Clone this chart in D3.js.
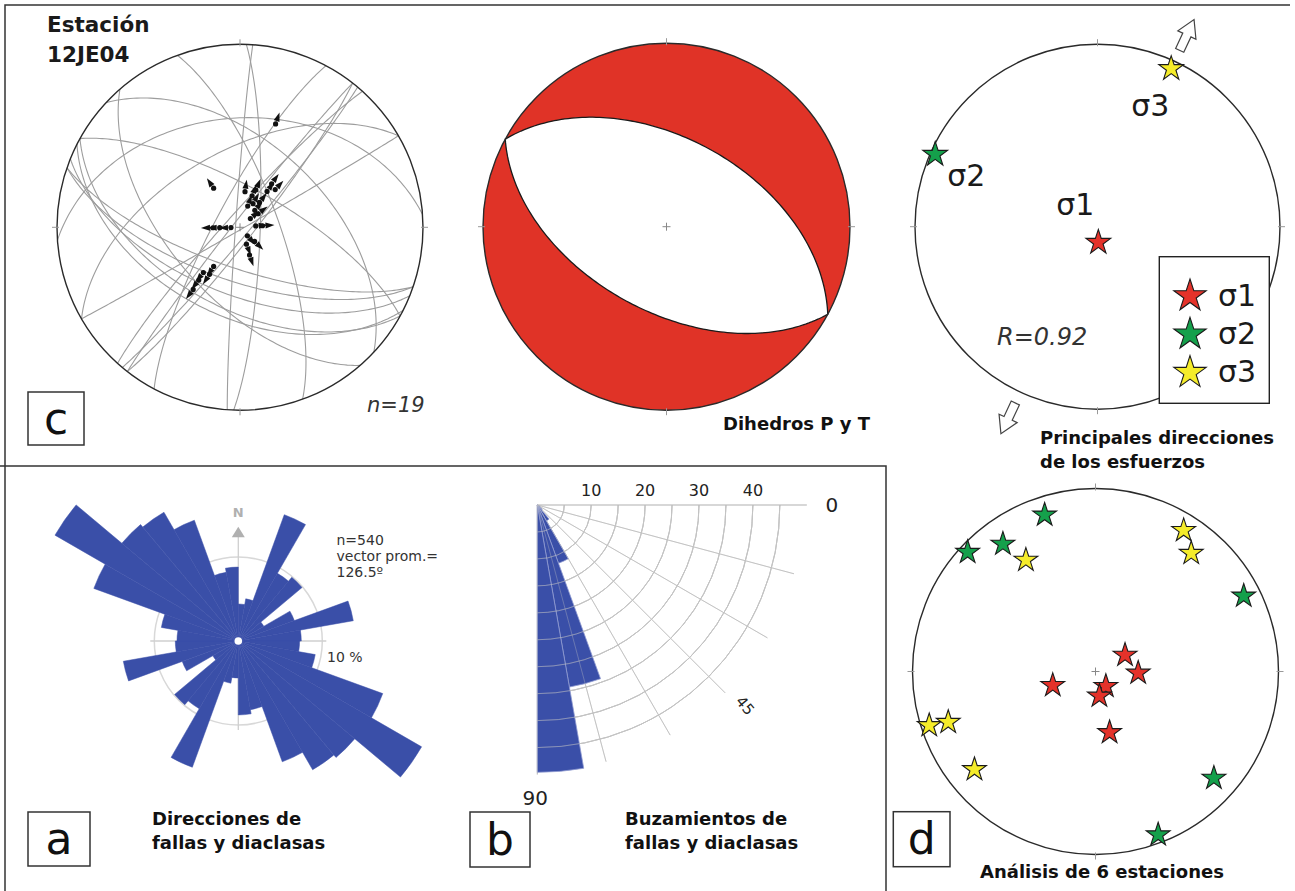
<!DOCTYPE html>
<html>
<head>
<meta charset="utf-8">
<script src="https://cdn.jsdelivr.net/npm/d3@7"></script>
<style>
  html, body { margin: 0; padding: 0; background: #fff; }
  svg { display: block; }
  text { font-family: "DejaVu Sans", Verdana, sans-serif; }
</style>
</head>
<body>
<svg id="fig" width="1295" height="891"></svg>
<script>
// ---------------- data ----------------
// (c) fault planes of station 12JE04: strike (right-hand rule) and dip, degrees
const planeStrike = [40, 218, 38, 222, 60, 109, 112, 119, 117, 109, 299, 266, 340, 208, 139, 184, 2, 313, 240];
const planeDip    = [86, 87, 84, 84, 89, 72, 60, 54, 50, 66, 72, 40, 73, 79, 59, 88, 81, 52, 56];

// (c) striae on the fault planes: trend / plunge, slip arrows point along trend
const striaTrend  = [19, 326, 8, 21, 23, 37, 36, 43, 20, 29, 38, 41, 53, 50, 268, 269, 269, 85, 86, 139, 159, 134, 161, 214, 213, 219, 218, 217];
const striaPlunge = [40, 69, 74, 75, 72, 70, 66, 67, 80, 78, 76, 80, 80, 84, 86, 81, 78, 83, 80, 85, 82, 81, 77, 69, 65, 64, 60, 55];

// right dihedra: the two nodal planes bounding the white (T) field
const nodalStrike = [298.5, 118.5];
const nodalDip    = [50, 52];

// principal stress axes for the station
const stressLabels = ["σ1", "σ2", "σ3"];
const stressTrend  = [177, 294, 25];
const stressPlunge = [83, 3, 5];
const stressColors = ["#e4322a", "#14a04b", "#f5ec2a"];
const stressRatio  = "R=0.92";

// (d) stress axes of 6 stations
const sigma1Trend  = [61, 92, 252, 145, 171, 167];
const sigma1Plunge = [75, 71, 70, 82, 79, 62];
const sigma2Trend  = [342, 324, 313, 63, 132, 159];
const sigma2Plunge = [11, 15, 5, 10, 14, 5];
const sigma3Trend  = [32, 39, 328, 252, 251, 231];
const sigma3Plunge = [10, 18, 29, 5, 16, 16];

// (a) strike rose, 10° bins (bidirectional), percent
const roseBinStart = [0, 10, 20, 30, 40, 50, 60, 70, 80, 90, 100, 110, 120, 130, 140, 150, 160, 170];
const rosePercent  = [4.4, 5.1, 16.0, 9.3, 9.9, 3.5, 7.1, 13.9, 7.5, 7.3, 9.3, 18.3, 25.2, 18.1, 17.7, 15.3, 8.3, 8.8];
const roseRingPercent = 10;
const roseCount = "n=540";
const roseMean = "126.5º";

// (b) dip histogram, 10° bins, percent
const dipBinStart = [0, 10, 20, 30, 40, 50, 60, 70, 80];
const dipPercent  = [0, 0, 0, 0.6, 1.2, 3.4, 11.5, 34.3, 49.6];
const dipTickLabels = [10, 20, 30, 40];
const dipRings = [5, 10, 15, 20, 25, 30, 35, 40, 45];
const dipSpokes = [15, 30, 45, 60, 75];

// ---------------- helpers ----------------
const rad = Math.PI / 180;
const svg = d3.select("#fig");
const BLUE = "#3a4fa8";
const line = d3.line();

// Schmidt (equal-area, lower hemisphere) net
function makeNet(cx, cy, R) {
  const rho = d3.scaleLinear().domain([0, 1]).range([0, R]);
  const project = (trend, plunge) => {
    const r = rho(Math.SQRT2 * Math.sin((90 - plunge) * rad / 2));
    return [cx + r * Math.sin(trend * rad), cy - r * Math.cos(trend * rad)];
  };
  return { cx, cy, R, project };
}

// great circle of a plane as trend/plunge samples, from strike to strike+180
function greatCircle(strike, dip, n = 120) {
  const dd = strike + 90;
  const S = [Math.cos(strike * rad), Math.sin(strike * rad), 0];
  const D = [Math.cos(dip * rad) * Math.cos(dd * rad), Math.cos(dip * rad) * Math.sin(dd * rad), Math.sin(dip * rad)];
  return d3.range(n + 1).map(i => {
    const a = i / n * Math.PI;
    const v = [0, 1, 2].map(k => Math.cos(a) * S[k] + Math.sin(a) * D[k]);
    const plunge = Math.asin(Math.max(-1, Math.min(1, v[2]))) / rad;
    const trend = Math.atan2(v[1], v[0]) / rad;
    return [trend, plunge];
  });
}

function drawNetFrame(g, net, opts = {}) {
  const { cx, cy, R } = net;
  g.append("circle").attr("cx", cx).attr("cy", cy).attr("r", R)
    .attr("fill", opts.fill || "none").attr("stroke", "#2a2a2a").attr("stroke-width", 1.4);
  [0, 90, 180, 270].forEach(a => {
    const s = Math.sin(a * rad), c = -Math.cos(a * rad);
    g.append("line")
      .attr("x1", cx + s * (R - 2)).attr("y1", cy + c * (R - 2))
      .attr("x2", cx + s * (R + 5)).attr("y2", cy + c * (R + 5))
      .attr("stroke", "#999").attr("stroke-width", 1);
  });
}

function centerCross(g, net) {
  const { cx, cy } = net;
  g.append("path").attr("d", `M${cx - 4},${cy}H${cx + 4}M${cx},${cy - 4}V${cy + 4}`)
    .attr("stroke", "#888").attr("stroke-width", 1);
}

function starPath(r) {
  return d3.symbol().type(d3.symbolStar).size(r * r / 0.89081309152928522810)();
}

function labelBox(x, y, w, h, letter) {
  const g = svg.append("g");
  g.append("rect").attr("x", x).attr("y", y).attr("width", w).attr("height", h)
    .attr("fill", "#fff").attr("stroke", "#333").attr("stroke-width", 1.5);
  g.append("text").attr("x", x + w / 2).attr("y", y + h / 2 + 15).attr("text-anchor", "middle")
    .attr("font-size", 44).attr("fill", "#111").text(letter);
}

function caption(x, y, lines, size = 18) {
  lines.forEach((t, i) => {
    svg.append("text").attr("x", x).attr("y", y + i * 24).attr("font-size", size)
      .attr("font-weight", "bold").attr("fill", "#111").text(t);
  });
}

// ---------------- panel frames ----------------
svg.append("path")
  .attr("d", "M5,891V5H1290M0,466H886V891")
  .attr("fill", "none").attr("stroke", "#333").attr("stroke-width", 1.5);

// ---------------- (c) fault planes and striae ----------------
{
  const net = makeNet(240, 227.3, 183);
  const g = svg.append("g");
  planeStrike.forEach((s, i) => {
    const pts = greatCircle(s, planeDip[i]).map(d => net.project(d[0], d[1]));
    g.append("path").attr("d", line(pts)).attr("fill", "none")
      .attr("stroke", "#9d9d9d").attr("stroke-width", 1.1);
  });
  drawNetFrame(g, net);
  centerCross(g, net);
  striaTrend.forEach((t, i) => {
    const [x, y] = net.project(t, striaPlunge[i]);
    const ux = Math.sin(t * rad), uy = -Math.cos(t * rad);
    const px = -uy, py = ux;
    g.append("circle").attr("cx", x).attr("cy", y).attr("r", 2.6).attr("fill", "#111");
    const bx = x + ux * 3, by = y + uy * 3;
    g.append("path")
      .attr("d", `M${x + ux * 12},${y + uy * 12}L${bx + px * 3},${by + py * 3}L${bx - px * 3},${by - py * 3}Z`)
      .attr("fill", "#111");
  });
  svg.append("text").attr("x", 47).attr("y", 31.7).attr("font-size", 21.5)
    .attr("font-weight", "bold").attr("fill", "#1a1a1a").text("Estación");
  svg.append("text").attr("x", 47).attr("y", 61.7).attr("font-size", 21.5)
    .attr("font-weight", "bold").attr("fill", "#1a1a1a").text("12JE04");
  svg.append("text").attr("x", 367).attr("y", 412).attr("font-size", 21)
    .attr("font-style", "italic").attr("fill", "#333").text("n=19");
  labelBox(28, 392, 56, 53, "c");
}

// ---------------- right dihedra ----------------
{
  const net = makeNet(666.5, 226.7, 183.5);
  const g = svg.append("g");
  g.append("circle").attr("cx", net.cx).attr("cy", net.cy).attr("r", net.R).attr("fill", "#e03327");
  const lens = [];
  nodalStrike.forEach((s, i) => {
    greatCircle(s, nodalDip[i]).forEach(d => lens.push(net.project(d[0], d[1])));
  });
  g.append("path").attr("d", line(lens) + "Z").attr("fill", "#fff")
    .attr("stroke", "#1a1a1a").attr("stroke-width", 1.3);
  drawNetFrame(g, net);
  centerCross(g, net);
  caption(723, 430, ["Dihedros P y T"]);
}

// ---------------- principal stress directions ----------------
{
  const net = makeNet(1097.5, 226.7, 182.5);
  const g = svg.append("g");
  drawNetFrame(g, net);

  // extension arrows along the σ3 trend
  const t3 = stressTrend[2];
  [t3, t3 + 180].forEach(az => {
    const ux = Math.sin(az * rad), uy = -Math.cos(az * rad);
    const r0 = net.R + 12;
    const x0 = net.cx + ux * r0, y0 = net.cy + uy * r0;
    const shape = [[0, -4.5], [17, -4.5], [17, -10], [34, 0], [17, 10], [17, 4.5], [0, 4.5]];
    const ang = Math.atan2(uy, ux) / rad;
    g.append("path").attr("d", line(shape) + "Z")
      .attr("transform", `translate(${x0},${y0}) rotate(${ang})`)
      .attr("fill", "#fff").attr("stroke", "#444").attr("stroke-width", 1.2);
  });

  // axis labels placed around each star
  const labelOffset = [[-42, -27], [12, 32], [-40, 47]];
  stressTrend.forEach((t, i) => {
    const [x, y] = net.project(t, stressPlunge[i]);
    g.append("path").attr("d", starPath(13)).attr("transform", `translate(${x},${y})`)
      .attr("fill", stressColors[i]).attr("stroke", "#1a1a1a").attr("stroke-width", 1.1);
    g.append("text").attr("x", x + labelOffset[i][0]).attr("y", y + labelOffset[i][1])
      .attr("font-size", 30).attr("fill", "#1a1a1a").text(stressLabels[i]);
  });
  g.append("text").attr("x", 997).attr("y", 345).attr("font-size", 24)
    .attr("font-style", "italic").attr("fill", "#333").text(stressRatio);

  // legend
  const lg = svg.append("g");
  lg.append("rect").attr("x", 1159.3).attr("y", 256.7).attr("width", 110).attr("height", 146.6)
    .attr("fill", "#fff").attr("stroke", "#222").attr("stroke-width", 1.4);
  stressLabels.forEach((lab, i) => {
    const y = 296 + i * 38.3;
    lg.append("path").attr("d", starPath(17)).attr("transform", `translate(1190,${y})`)
      .attr("fill", stressColors[i]).attr("stroke", "#1a1a1a").attr("stroke-width", 1.1);
    lg.append("text").attr("x", 1218).attr("y", y + 9.5).attr("font-size", 30)
      .attr("fill", "#1a1a1a").text(lab);
  });
  caption(1040, 444, ["Principales direcciones", "de los esfuerzos"]);
}

// ---------------- (d) six stations ----------------
{
  const net = makeNet(1095.5, 671.5, 183);
  const g = svg.append("g");
  drawNetFrame(g, net);
  centerCross(g, net);
  const sets = [
    [sigma2Trend, sigma2Plunge, stressColors[1]],
    [sigma3Trend, sigma3Plunge, stressColors[2]],
    [sigma1Trend, sigma1Plunge, stressColors[0]]
  ];
  sets.forEach(([tr, pl, col]) => {
    tr.forEach((t, i) => {
      const [x, y] = net.project(t, pl[i]);
      g.append("path").attr("d", starPath(12.5)).attr("transform", `translate(${x},${y})`)
        .attr("fill", col).attr("stroke", "#1a1a1a").attr("stroke-width", 1.1);
    });
  });
  labelBox(893.3, 811.7, 56.7, 55, "d");
  caption(980, 878, ["Análisis de 6 estaciones"]);
}

// ---------------- (a) strike rose ----------------
{
  const cx = 238.3, cy = 641;
  const rScale = d3.scaleLinear().domain([0, roseRingPercent]).range([0, 84]);
  const g = svg.append("g").attr("transform", `translate(${cx},${cy})`);
  g.append("circle").attr("r", rScale(roseRingPercent)).attr("fill", "none")
    .attr("stroke", "#d8d8d8").attr("stroke-width", 1.5);
  g.append("path").attr("d", "M0,-104V89M-88,0H88").attr("stroke", "#cfcfcf").attr("stroke-width", 1.3);

  const arc = d3.arc().innerRadius(0);
  const petals = [];
  roseBinStart.forEach((a, i) => {
    petals.push({ a0: a, a1: a + 10, v: rosePercent[i] });
    petals.push({ a0: a + 180, a1: a + 190, v: rosePercent[i] });
  });
  g.selectAll("path.petal").data(petals).join("path").attr("class", "petal")
    .attr("d", d => arc({ outerRadius: rScale(d.v), startAngle: d.a0 * rad, endAngle: d.a1 * rad }))
    .attr("fill", BLUE).attr("stroke", BLUE).attr("stroke-width", 0.5);
  g.append("circle").attr("r", 3.8).attr("fill", "#fff");

  // north marker
  g.append("path").attr("d", "M0,-114.3L6.5,-103.7L-6.5,-103.7Z").attr("fill", "#b0b0b0");
  g.append("text").attr("x", 0).attr("y", -124.5).attr("text-anchor", "middle")
    .attr("font-size", 13).attr("font-weight", "bold").attr("fill", "#b0b0b0").text("N");

  g.append("text").attr("x", 88.7).attr("y", 21).attr("font-size", 14).attr("fill", "#333")
    .text(roseRingPercent + " %");
  [roseCount, "vector prom.=", roseMean].forEach((t, i) => {
    svg.append("text").attr("x", 336.5).attr("y", 545 + i * 15.8).attr("font-size", 14)
      .attr("fill", "#333").text(t);
  });
  labelBox(28, 812, 62, 54, "a");
  caption(152, 825, ["Direcciones de", "fallas y diaclasas"]);
}

// ---------------- (b) dip histogram ----------------
{
  const ox = 537.3, oy = 505;
  const r = d3.scaleLinear().domain([0, 10]).range([0, 53.9]);
  const g = svg.append("g").attr("transform", `translate(${ox},${oy})`);
  const toXY = (ang, v) => [Math.cos(ang * rad) * r(v), Math.sin(ang * rad) * r(v)];

  function grid(opacity) {
    const gg = g.append("g").attr("stroke", "#c4c4c4").attr("fill", "none")
      .attr("stroke-width", 1).attr("stroke-opacity", opacity);
    dipRings.forEach(v => {
      gg.append("path").attr("d", d3.arc()({ innerRadius: r(v), outerRadius: r(v), startAngle: Math.PI / 2, endAngle: Math.PI }));
    });
    dipSpokes.forEach(a => {
      const [x, y] = toXY(a, 49.3);
      gg.append("line").attr("x1", 0).attr("y1", 0).attr("x2", x).attr("y2", y);
    });
    gg.append("line").attr("x1", 0).attr("y1", 0).attr("x2", r(50)).attr("y2", 0).attr("stroke", "#bbb");
    gg.append("line").attr("x1", 0).attr("y1", 0).attr("x2", 0).attr("y2", r(50)).attr("stroke", "#bbb");
  }
  grid(1);
  const arc = d3.arc().innerRadius(0);
  g.selectAll("path.bar").data(dipBinStart.map((a, i) => ({ a, v: dipPercent[i] })).filter(d => d.v > 0))
    .join("path").attr("class", "bar")
    .attr("d", d => arc({ outerRadius: r(d.v), startAngle: (90 + d.a) * rad, endAngle: (100 + d.a) * rad }))
    .attr("fill", BLUE).attr("stroke", "#8f9bd0").attr("stroke-width", 0.8);
  grid(0.35);

  dipTickLabels.forEach(v => {
    g.append("text").attr("x", r(v)).attr("y", -9).attr("text-anchor", "middle")
      .attr("font-size", 16).attr("fill", "#222").text(v);
  });
  g.append("text").attr("x", r(50) + 25).attr("y", 7).attr("text-anchor", "middle")
    .attr("font-size", 20).attr("fill", "#222").text("0");
  g.append("text").attr("x", -2).attr("y", 300).attr("text-anchor", "middle")
    .attr("font-size", 20).attr("fill", "#222").text("90");
  const [lx, ly] = toXY(45, 53.5);
  g.append("text").attr("transform", `translate(${lx},${ly}) rotate(50)`).attr("text-anchor", "middle")
    .attr("font-size", 15).attr("fill", "#222").text("45");
  labelBox(470, 812, 60, 55, "b");
  caption(625, 825, ["Buzamientos de", "fallas y diaclasas"]);
}
</script>
</body>
</html>
